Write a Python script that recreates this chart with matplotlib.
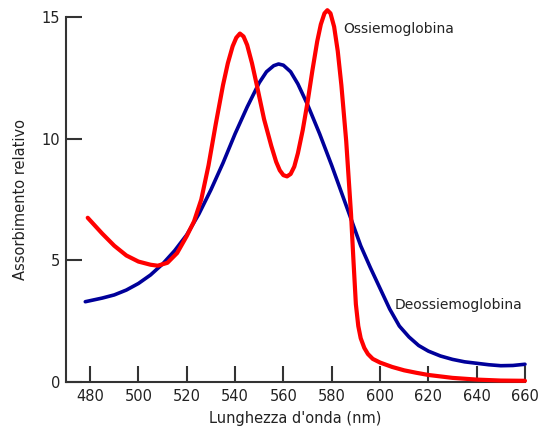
"""Spettri di assorbimento di ossiemoglobina e deossiemoglobina."""

import matplotlib
matplotlib.use('Agg')
import matplotlib.pyplot as plt


# lunghezza d'onda (nm) e assorbimento
deoxy_nm = [478, 485, 490, 495, 500, 505, 510, 515, 520, 525, 530, 535,
            540, 545, 550, 553, 556, 558, 560, 563, 566, 570, 575, 580,
            584, 588, 592, 596, 600, 604, 608, 612, 616, 620, 625, 630,
            635, 640, 645, 650, 655, 660]
deoxy_abs = [3.3, 3.45, 3.58, 3.78, 4.05, 4.4, 4.85, 5.4, 6.05, 6.9, 7.9, 9.0,
             10.2, 11.3, 12.3, 12.75, 13.0, 13.07, 13.02, 12.75, 12.25, 11.4,
             10.2, 8.9, 7.8, 6.7, 5.6, 4.7, 3.85, 3.0, 2.3, 1.85, 1.5, 1.27,
             1.07, 0.93, 0.83, 0.77, 0.71, 0.67, 0.68, 0.73]

oxy_nm = [479, 485, 490, 495, 500, 505, 508, 512, 516, 520, 523, 526,
          529, 532, 535, 537, 539, 540.5, 542, 543.5, 545, 547, 549, 552,
          555, 557, 558.5, 560, 561.5, 563, 564.5, 566, 568, 570, 572, 574,
          575.5, 577, 578.2, 579.5, 581, 582.5, 584, 586, 588, 589, 590,
          591, 592, 593.5, 595, 597, 600, 605, 610, 615, 620, 630, 640,
          650, 660]
oxy_abs = [6.75, 6.1, 5.6, 5.2, 4.95, 4.82, 4.78, 4.9, 5.3, 6.0, 6.6, 7.5,
           8.9, 10.6, 12.2, 13.1, 13.8, 14.15, 14.32, 14.2, 13.85, 13.1, 12.2,
           10.8, 9.7, 9.05, 8.7, 8.5, 8.45, 8.55, 8.85, 9.4, 10.35, 11.5,
           12.8, 14.0, 14.7, 15.15, 15.28, 15.15, 14.6, 13.6, 12.2, 9.9, 6.9,
           5.0, 3.2, 2.3, 1.8, 1.4, 1.15, 0.95, 0.8, 0.62, 0.48, 0.38, 0.29,
           0.17, 0.1, 0.06, 0.05]

x_ticks = [480, 500, 520, 540, 560, 580, 600, 620, 640, 660]
y_ticks = [0, 5, 10, 15]


def plot_spectra(filename=None):
    fig = plt.figure(figsize=(5.43, 4.32), dpi=100)
    ax = fig.add_axes([0.1215, 0.1157, 0.8453, 0.8449])

    ax.plot(deoxy_nm, deoxy_abs, color='#00009a', lw=2.6,
            solid_capstyle='round', solid_joinstyle='round', zorder=2,
            clip_on=False)
    ax.plot(oxy_nm, oxy_abs, color='#ff0000', lw=3.0,
            solid_capstyle='round', solid_joinstyle='round', zorder=3,
            clip_on=False)

    ax.text(584.6, 14.5, 'Ossiemoglobina', fontsize=10, va='center',
            color='#222222')
    ax.text(606.2, 3.16, 'Deossiemoglobina', fontsize=10, va='center',
            color='#222222')

    ax.set_xlim(470, 660)
    ax.set_ylim(0, 15)
    ax.set_xticks(x_ticks)
    ax.set_yticks(y_ticks)

    for side in ('top', 'right'):
        ax.spines[side].set_visible(False)
    for side in ('left', 'bottom'):
        ax.spines[side].set_linewidth(1.5)
        ax.spines[side].set_color('#333333')

    ax.tick_params(direction='in', length=11.5, width=1.5, color='#333333',
                   labelsize=10.5, labelcolor='#222222')
    ax.tick_params(axis='x', pad=5)
    ax.tick_params(axis='y', pad=4)

    ax.set_xlabel("Lunghezza d'onda (nm)", fontsize=10.5, color='#222222',
                  labelpad=5)
    ax.set_ylabel('Assorbimento relativo', fontsize=10.5, color='#222222',
                  labelpad=10)

    if filename:
        fig.savefig(filename, dpi=100)


if __name__ == '__main__':
    plot_spectra('out.png')
